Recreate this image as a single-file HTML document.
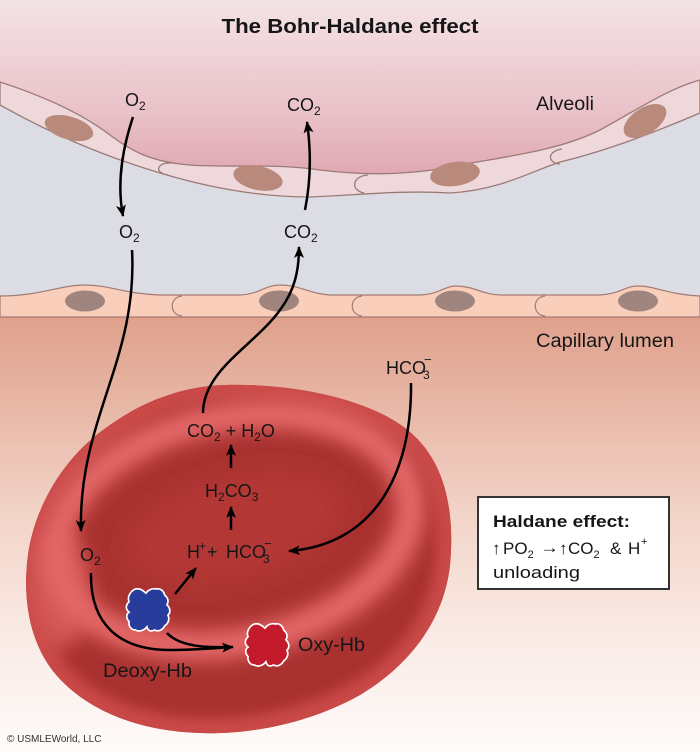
<!DOCTYPE html>
<html><head><meta charset="utf-8">
<style>
html,body{margin:0;padding:0;background:#fff}
svg{display:block}
text{font-family:"Liberation Sans",sans-serif;fill:#161616}
</style></head>
<body>
<svg width="700" height="752" viewBox="0 0 700 752" xmlns="http://www.w3.org/2000/svg">
<defs>
<linearGradient id="alv" gradientUnits="userSpaceOnUse" x1="0" y1="0" x2="0" y2="200">
<stop offset="0" stop-color="#f4e3e6"/><stop offset="0.5" stop-color="#ebc6cc"/><stop offset="1" stop-color="#dc9ea9"/></linearGradient>
<linearGradient id="lum" gradientUnits="userSpaceOnUse" x1="0" y1="315" x2="0" y2="752">
<stop offset="0" stop-color="#dfa08b"/><stop offset="0.2" stop-color="#e8b6a5"/><stop offset="0.45" stop-color="#f2d3c7"/><stop offset="0.7" stop-color="#f9e8e2"/><stop offset="1" stop-color="#fefbfa"/></linearGradient>
<filter id="b6" x="-30%" y="-30%" width="160%" height="160%"><feGaussianBlur stdDeviation="6"/></filter>
<filter id="b9" x="-40%" y="-60%" width="180%" height="220%"><feGaussianBlur stdDeviation="9"/></filter>
<filter id="b12" x="-40%" y="-60%" width="180%" height="220%"><feGaussianBlur stdDeviation="12"/></filter>
<clipPath id="rc"><path d="M225,385 C290,383 370,398 410,432 C445,462 455,510 450,565 C444,620 410,665 360,695 C310,723 250,735 200,733 C140,731 90,712 58,677 C30,646 22,600 28,555 C35,505 65,455 110,425 C145,400 185,386 225,385 Z"/></clipPath>
<marker id="ah" viewBox="0 0 12 10" refX="11" refY="5" markerWidth="12" markerHeight="10" markerUnits="userSpaceOnUse" orient="auto"><path d="M0,0 L12,5 L0,10 L3,5 Z" fill="#000"/></marker>
<path id="blob" d="M-12,-20 C-8,-21 -5,-19 -2,-16 C0,-19 4,-21 8,-20 C12,-21 15,-18 16,-14 C19,-12 20,-8 18,-5 C21,-2 22,2 19,5 C21,9 19,13 16,15 C14,19 10,21 6,19 C3,21 0,20 -1,16 C-4,20 -9,21 -12,19 C-16,19 -19,15 -18,11 C-21,8 -21,4 -18,2 C-22,-1 -21,-5 -18,-8 C-20,-12 -17,-18 -12,-20 Z"/>
</defs>

<!-- interstitium -->
<rect x="0" y="0" width="700" height="320" fill="#dcdce4"/>
<!-- lumen -->
<rect x="0" y="312" width="700" height="440" fill="url(#lum)"/>

<!-- alveolus -->
<path d="M0,82 C40,95 80,112 110,135 C130,150 150,162 190,165 C230,168 270,163 320,170 C360,175 410,176 460,165 C510,156 560,150 600,130 C640,108 670,88 700,80 L700,0 L0,0 Z" fill="url(#alv)"/>
<!-- alveolar wall -->
<path d="M0,82 C40,95 80,112 110,135 C130,150 150,162 190,165 C230,168 270,163 320,170 C360,175 410,176 460,165 C510,156 560,150 600,130 C640,108 670,88 700,80 L700,113 C660,130 610,150 560,162 C530,172 500,190 450,193 C400,190 360,195 310,197 C260,197 210,188 160,173 C100,155 50,133 0,105 Z" fill="#efd8dc" stroke="#9c7a74" stroke-width="1.3"/>
<path d="M172,163 C156,162 154,173 168,175" fill="none" stroke="#9c7a74" stroke-width="1.3"/>
<path d="M368,175 C352,176 350,190 364,193" fill="none" stroke="#9c7a74" stroke-width="1.3"/>
<path d="M562,149 C547,151 547,163 560,164" fill="none" stroke="#9c7a74" stroke-width="1.3"/>
<ellipse cx="69" cy="128" rx="25" ry="11.5" transform="rotate(16 69 128)" fill="#b98a7b"/>
<ellipse cx="258" cy="178" rx="25" ry="12" transform="rotate(12 258 178)" fill="#b98a7b"/>
<ellipse cx="455" cy="174" rx="25" ry="12" transform="rotate(-8 455 174)" fill="#b98a7b"/>
<ellipse cx="645" cy="121" rx="24" ry="13" transform="rotate(-33 645 121)" fill="#b98a7b"/>

<!-- endothelium -->
<path d="M0,296 C40,296 60,285 85,285 C110,285 125,294 160,295 L240,295 C260,294 265,285 280,285 C300,285 310,294 330,295 L420,295 C440,294 445,286 455,286 C475,286 480,294 500,295 L600,295 C620,294 625,286 638,286 C655,286 665,294 700,296 L700,317 L0,317 Z" fill="#f9cfbc" stroke="#a27c72" stroke-width="1.2"/>
<path d="M182,296 C169,297 169,315 182,316" fill="none" stroke="#a27c72" stroke-width="1.2"/>
<path d="M362,296 C349,297 349,315 362,316" fill="none" stroke="#a27c72" stroke-width="1.2"/>
<path d="M545,296 C532,297 532,315 545,316" fill="none" stroke="#a27c72" stroke-width="1.2"/>
<ellipse cx="85" cy="301" rx="20" ry="10.5" fill="#a0857f"/>
<ellipse cx="279" cy="301" rx="20" ry="10.5" fill="#a0857f"/>
<ellipse cx="455" cy="301" rx="20" ry="10.5" fill="#a0857f"/>
<ellipse cx="638" cy="301" rx="20" ry="10.5" fill="#a0857f"/>

<!-- RBC -->
<g clip-path="url(#rc)">
<rect x="0" y="370" width="470" height="380" fill="#a9312f"/>
<path d="M225,385 C290,383 370,398 410,432 C445,462 455,510 450,565 C444,620 410,665 360,695 C310,723 250,735 200,733 C140,731 90,712 58,677 C30,646 22,600 28,555 C35,505 65,455 110,425 C145,400 185,386 225,385 Z" fill="none" stroke="#c94a47" stroke-width="30" filter="url(#b6)"/>
<ellipse cx="60" cy="590" rx="30" ry="60" fill="#d45654" filter="url(#b9)"/>
<ellipse cx="233" cy="530" rx="180" ry="112" transform="rotate(-12 233 530)" fill="none" stroke="#e46868" stroke-width="30" filter="url(#b9)"/>
<ellipse cx="236" cy="528" rx="112" ry="52" transform="rotate(-14 236 528)" fill="#b33936" filter="url(#b12)"/>
</g>

<!-- arrows -->
<g fill="none" stroke="#000" stroke-width="2.5">
<path d="M133,117 C122,150 117,185 123,216" marker-end="url(#ah)"/>
<path d="M305,210 C311,180 311,150 307,122" marker-end="url(#ah)"/>
<path d="M132,250 C138,360 78,420 81,531" marker-end="url(#ah)"/>
<path d="M203,413 C203,370 255,345 280,310 C295,290 299,270 299,247" marker-end="url(#ah)"/>
<path d="M411,383 C412,480 370,545 289,551" marker-end="url(#ah)"/>
<path d="M231,468 L231,445" marker-end="url(#ah)"/>
<path d="M231,530 L231,507" marker-end="url(#ah)"/>
<path d="M175,594 L196,568" marker-end="url(#ah)"/>
<path d="M91,573 C90,625 120,650 170,650 C195,650 215,648 233,647" marker-end="url(#ah)"/>
<path d="M167,633 C178,645 200,648 226,647"/>
</g>

<!-- Hb -->
<use href="#blob" transform="translate(148,610) scale(1.05)" fill="#283c9c" stroke="#fff" stroke-width="1.6"/>
<use href="#blob" transform="translate(267,645) scale(1.05)" fill="#c41b2c" stroke="#fff" stroke-width="1.6"/>

<!-- labels -->
<text x="350" y="33" text-anchor="middle" font-size="20" font-weight="bold" textLength="257" lengthAdjust="spacingAndGlyphs">The Bohr-Haldane effect</text>
<text x="536" y="110" font-size="19" textLength="58" lengthAdjust="spacingAndGlyphs">Alveoli</text>
<text x="536" y="347" font-size="19" textLength="138" lengthAdjust="spacingAndGlyphs">Capillary lumen</text>

<text x="125" y="106" font-size="18">O<tspan font-size="12" dy="4">2</tspan></text>
<text x="287" y="111" font-size="18">CO<tspan font-size="12" dy="4">2</tspan></text>
<text x="119" y="238" font-size="18">O<tspan font-size="12" dy="4">2</tspan></text>
<text x="284" y="238" font-size="18">CO<tspan font-size="12" dy="4">2</tspan></text>

<text x="386" y="374" font-size="18">HCO</text>
<text x="423" y="379" font-size="12">3</text>
<text x="424" y="364" font-size="13">−</text>

<text x="187" y="437" font-size="18">CO<tspan font-size="12" dy="4">2</tspan><tspan dy="-4"> + H</tspan><tspan font-size="12" dy="4">2</tspan><tspan dy="-4">O</tspan></text>
<text x="205" y="497" font-size="18">H<tspan font-size="12" dy="4">2</tspan><tspan dy="-4">CO</tspan><tspan font-size="12" dy="4">3</tspan></text>

<text x="187" y="558" font-size="18">H</text>
<text x="199" y="550" font-size="12">+</text>
<text x="207" y="558" font-size="18">+</text>
<text x="226" y="558" font-size="18">HCO</text>
<text x="263" y="563" font-size="12">3</text>
<text x="264" y="548" font-size="13">−</text>

<text x="80" y="561" font-size="18">O<tspan font-size="12" dy="4">2</tspan></text>
<text x="298" y="651" font-size="19" textLength="67" lengthAdjust="spacingAndGlyphs">Oxy-Hb</text>
<text x="103" y="677" font-size="19" textLength="89" lengthAdjust="spacingAndGlyphs">Deoxy-Hb</text>

<!-- Haldane box -->
<rect x="478" y="497" width="191" height="92" fill="#fff" stroke="#333" stroke-width="2"/>
<text x="493" y="527" font-size="17" font-weight="bold" textLength="137" lengthAdjust="spacingAndGlyphs">Haldane effect:</text>
<text x="492" y="554" font-size="17" font-weight="bold">↑</text>
<text x="503" y="554" font-size="17">PO<tspan font-size="11" dy="4">2</tspan></text>
<text x="540" y="553" font-size="17" font-weight="bold" textLength="19" lengthAdjust="spacingAndGlyphs">→</text>
<text x="559" y="554" font-size="17" font-weight="bold">↑</text>
<text x="568" y="554" font-size="17">CO<tspan font-size="11" dy="4">2</tspan></text>
<text x="610" y="554" font-size="17">&amp;</text>
<text x="628" y="554" font-size="17">H</text>
<text x="641" y="545" font-size="11">+</text>
<text x="493" y="578" font-size="17" textLength="87" lengthAdjust="spacingAndGlyphs">unloading</text>

<text x="7" y="742" font-size="10" style="fill:#333">© USMLEWorld, LLC</text>
</svg>
</body></html>
